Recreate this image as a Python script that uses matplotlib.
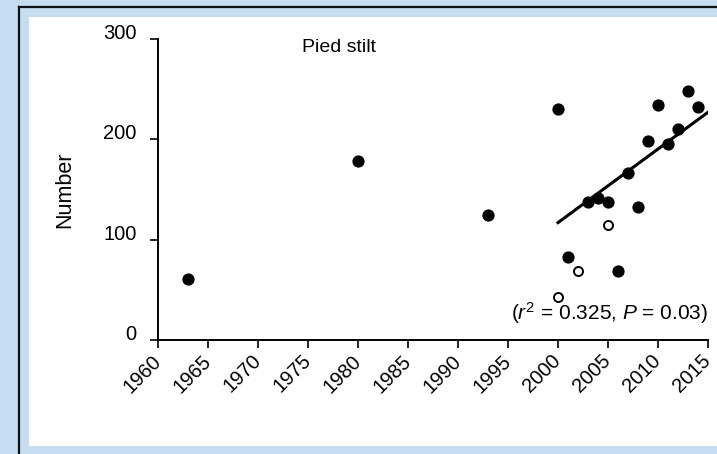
import matplotlib
matplotlib.use('Agg')
import matplotlib.pyplot as plt
from matplotlib.patches import Rectangle
from matplotlib.lines import Line2D

plt.rcParams['font.family'] = ['Liberation Sans', 'DejaVu Sans']
plt.rcParams['mathtext.fontset'] = 'custom'
plt.rcParams['mathtext.rm'] = 'Liberation Sans'
plt.rcParams['mathtext.it'] = 'Liberation Sans:italic'

# counts, filled markers
years = [1963, 1980, 1993, 2000, 2001, 2003, 2004, 2005, 2006, 2007,
         2008, 2009, 2010, 2011, 2012, 2013, 2014]
counts = [61, 178, 125, 230, 83, 138, 142, 138, 69, 166,
          133, 198, 234, 195, 210, 248, 232]

# open markers
open_years = [2000, 2002, 2005]
open_counts = [43, 69, 115]

# trend line ends
trend_years = [2000, 2015]
trend_counts = [117, 227]

xticks = list(range(1960, 2016, 5))
yticks = [0, 100, 200, 300]

bg = '#c6dcf0'
fig = plt.figure(figsize=(7.17, 4.54), dpi=100, facecolor=bg)

# frame: white panel and dark border lines
fig.patches.append(Rectangle((29 / 717, 1 - 446 / 454), 1 - 29 / 717, (446 - 17) / 454,
                             transform=fig.transFigure, facecolor='white',
                             edgecolor='none', zorder=-10))
fig.lines.append(Line2D([18.5 / 717, 18.5 / 717], [0, 1 - 7 / 454],
                        transform=fig.transFigure, color='#111111', lw=1.6, zorder=-10))
fig.lines.append(Line2D([18.5 / 717, 1], [1 - 7 / 454, 1 - 7 / 454],
                        transform=fig.transFigure, color='#111111', lw=1.6, zorder=-10))

ax = fig.add_axes([158 / 717, 1 - 340 / 454, 550 / 717, 301 / 454])
ax.set_facecolor('none')

ax.plot(trend_years, trend_counts, color='black', lw=2.2, zorder=2)
ax.plot(years, counts, 'o', color='black', markersize=7.8, zorder=3, clip_on=False)
ax.plot(open_years, open_counts, 'o', markerfacecolor='white', markeredgecolor='black',
        markeredgewidth=1.4, markersize=6.5, zorder=3, clip_on=False)

ax.set_xlim(1960, 2015)
ax.set_ylim(0, 300)
ax.set_xticks(xticks)
ax.set_yticks(yticks)
ax.set_xticklabels([str(t) for t in xticks], rotation=45, ha='right', va='center',
                   rotation_mode='anchor', fontsize=14.5)
ax.set_yticklabels([str(t) for t in yticks], fontsize=14.5, va='baseline')
ax.tick_params(axis='both', direction='out', length=6, width=1.2, color='black')
ax.tick_params(axis='y', pad=9.5)
ax.tick_params(axis='x', pad=7)

for s in ['top', 'right']:
    ax.spines[s].set_visible(False)
for s in ['left', 'bottom']:
    ax.spines[s].set_linewidth(1.4)

ax.set_ylabel('Number', fontsize=15.5)
ax.yaxis.set_label_coords(-0.15, 0.5)

ax.text(0.329, 0.973, 'Pied stilt', transform=ax.transAxes, ha='center',
        va='center', fontsize=14)
ax.text(1.0, 0.09, '($r^2$ = 0.325, $P$ = 0.03)', transform=ax.transAxes,
        ha='right', va='center', fontsize=15)

fig.savefig('out.png', dpi=100, facecolor=bg)
